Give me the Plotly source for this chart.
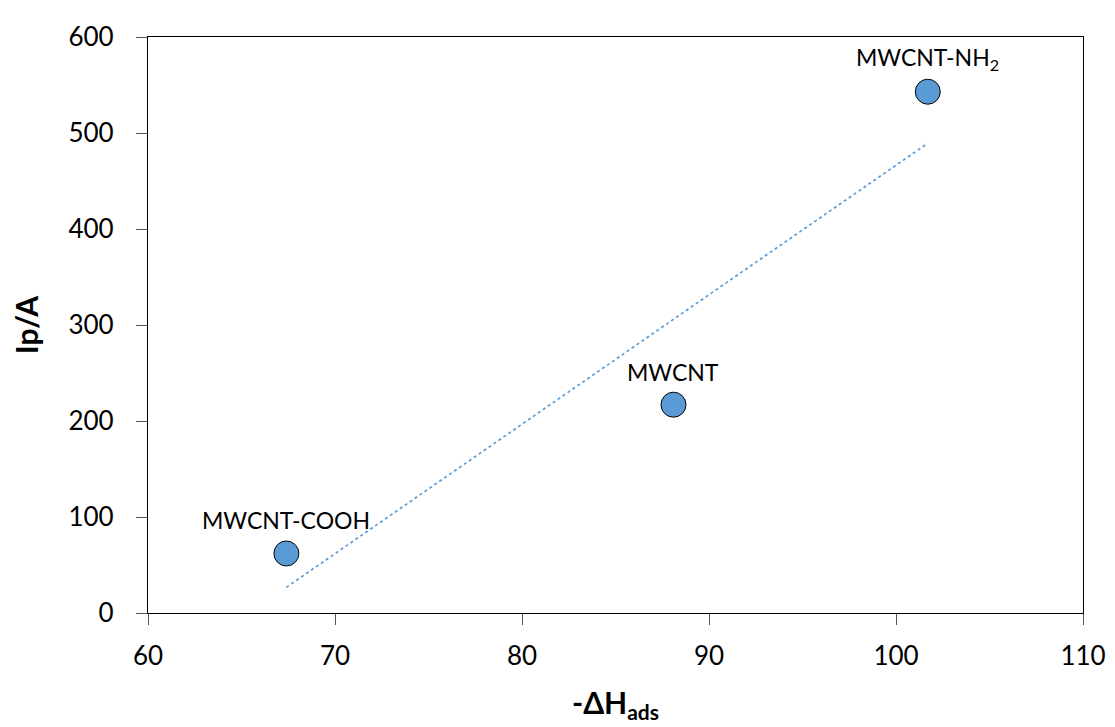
import numpy as np
import plotly.graph_objects as go

labels = ["MWCNT-COOH", "MWCNT", "MWCNT-NH<sub>2</sub>"]
dh_ads = [67.4, 88.1, 101.7]
ip_a = [62, 217, 543]

x_ticks = [60, 70, 80, 90, 100, 110]
y_ticks = [0, 100, 200, 300, 400, 500, 600]

# linear trendline fitted to the data
slope, intercept = np.polyfit(dh_ads, ip_a, 1)
trend_x = [min(dh_ads), max(dh_ads)]
trend_y = [slope * v + intercept for v in trend_x]

fig = go.Figure()
fig.add_trace(go.Scatter(x=trend_x, y=trend_y, mode="lines",
                         line=dict(color="#5B9BD5", width=1.7, dash="dot"),
                         showlegend=False, hoverinfo="skip"))
fig.add_trace(go.Scatter(x=dh_ads, y=ip_a, mode="markers",
                         marker=dict(size=25, color="#5B9BD5",
                                     line=dict(color="black", width=1)),
                         showlegend=False))

for lx, ly, lt in zip(dh_ads, ip_a, labels):
    fig.add_annotation(x=lx, y=ly, text=lt, showarrow=False, yshift=33,
                       font=dict(family="Lato", size=23, color="black"))

axis_common = dict(showline=True, linecolor="black", linewidth=1.3, mirror=True,
                   ticks="outside", ticklen=11, tickwidth=1.3, tickcolor="#555555",
                   showgrid=False, zeroline=False,
                   tickfont=dict(family="Lato", size=26, color="black"))

fig.update_xaxes(range=[60, 110], tickvals=x_ticks, ticklabelstandoff=9, **axis_common,
                 title=dict(text="<b>-ΔH<sub>ads</sub></b>", standoff=22,
                            font=dict(family="Lato", size=30, color="black")))
fig.update_yaxes(range=[0, 600], tickvals=y_ticks, ticklabelstandoff=17, **axis_common,
                 title=dict(text="<b>Ip/A</b>", standoff=27,
                            font=dict(family="Lato", size=30, color="black")))

fig.update_layout(width=1115, height=727,
                  margin=dict(l=134, r=40, t=22, b=122),
                  plot_bgcolor="white", paper_bgcolor="white")

fig.write_html("out.html")
